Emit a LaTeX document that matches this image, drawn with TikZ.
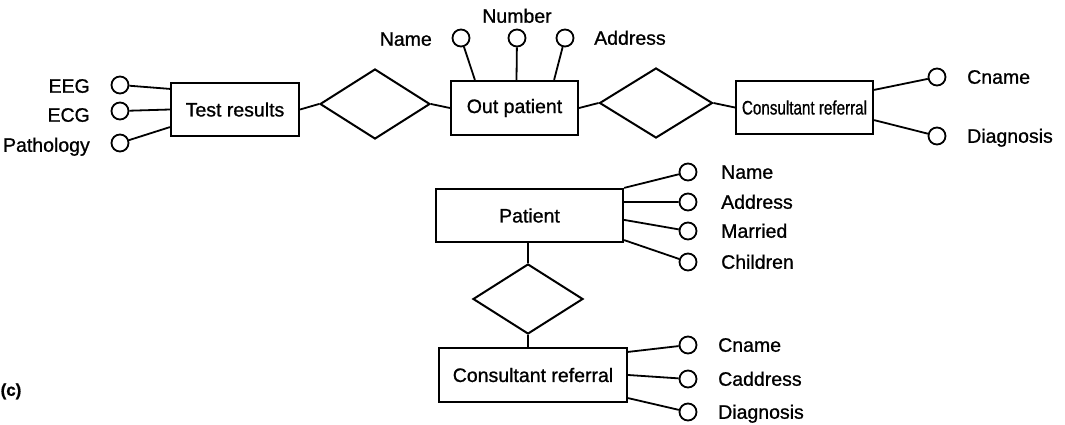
\documentclass[tikz,border=0pt]{standalone}
\usepackage{fontspec}
\setmainfont{Liberation Sans}[FakeBold=0.9]
\usetikzlibrary{shapes.geometric}
\begin{document}
\begin{tikzpicture}[x=1pt,y=-1pt,
  every node/.style={font=\fontsize{19.5}{22}\selectfont},
  entity/.style={draw,line width=2.2pt,rectangle,inner sep=0pt},
  relation/.style={draw,line width=2pt,diamond,inner sep=0pt,minimum width=110pt,minimum height=70pt},
  attr/.style={draw,line width=1.8pt,circle,inner sep=0pt,minimum size=17pt},
  lbl/.style={inner sep=0pt,text height=13.5pt,text depth=0pt},
  link/.style={line width=1.8pt}]
\useasboundingbox (0,0) rectangle (1065,425);

% ---- upper row: Test results -- Out patient -- Consultant referral
\node[entity,minimum width=128pt,minimum height=53pt] (tr) at (235,109.5) {Test results};
\node[entity,minimum width=127pt,minimum height=54pt] (op) at (514.5,108) {Out patient};
\node[entity,minimum width=137pt,minimum height=53pt] (cr1) at (804.5,107.5)
  {\scalebox{0.78}[1]{Consultant referral}};

\node[relation] (d1) at (375,104) {};
\node[relation,minimum width=113pt] (d2) at (656,103) {};

\draw[link] (tr.east) -- (d1.west);
\draw[link] (d1.east) -- (op.west);
\draw[link] (op.east) -- (d2.west);
\draw[link] (d2.east) -- (cr1.west);

% attributes of Test results
\node[attr] (eeg) at (120,85) {};
\node[attr] (ecg) at (120,111) {};
\node[attr] (path) at (120,143) {};
\node[lbl,anchor=east] (leeg) at (90,86) {EEG};
\node[lbl,anchor=east] (lecg) at (90,115) {ECG};
\node[lbl,anchor=east] (lpath) at (90,145) {Pathology};
\draw[link] (eeg) -- ([yshift=-7pt]tr.north west);
\draw[link] (ecg) -- (tr.west);
\draw[link] (path) -- ([yshift=10pt]tr.south west);

% attributes of Out patient
\node[attr] (opname) at (461,38) {};
\node[attr] (opnum) at (517,38) {};
\node[attr] (opaddr) at (565,38) {};
\node[lbl,anchor=east] (lopname) at (432,39) {Name};
\node[lbl] (lopnum) at (517,16) {Number};
\node[lbl,anchor=west] (lopaddr) at (594,38) {Address};
\draw[link] (opname) -- ([xshift=25pt]op.north west);
\draw[link] (opnum) -- ([xshift=2pt]op.north);
\draw[link] (opaddr) -- ([xshift=-25pt]op.north east);

% attributes of Consultant referral (upper)
\node[attr] (cname1) at (937,77) {};
\node[attr] (diag1) at (937,136) {};
\node[lbl,anchor=west] (lcname1) at (967,77) {Cname};
\node[lbl,anchor=west] (ldiag1) at (967,136) {Diagnosis};
\draw[link] ([yshift=-10pt]cr1.north east) -- (cname1);
\draw[link] ([yshift=15pt]cr1.south east) -- (diag1);

% ---- lower part: Patient -- Consultant referral
\node[entity,minimum width=187pt,minimum height=53pt] (pt) at (529.5,215.5) {Patient};
\node[entity,minimum width=188pt,minimum height=54pt] (cr2) at (533,375) {Consultant referral};
\node[relation] (d3) at (528,299) {};
\draw[link] (pt.south -| d3.north) -- (d3.north);
\draw[link] (d3.south) -- (d3.south |- cr2.north);

% attributes of Patient
\node[attr] (pname) at (688,172) {};
\node[attr] (paddr) at (688,202) {};
\node[attr] (pmar) at (688,231) {};
\node[attr] (pchild) at (688,262) {};
\node[lbl,anchor=west] (lpname) at (721,172) {Name};
\node[lbl,anchor=west] (lpaddr) at (721,202) {Address};
\node[lbl,anchor=west] (lpmar) at (721,231) {Married};
\node[lbl,anchor=west] (lpchild) at (721,262) {Children};
\draw[link] (pt.north east) -- (pname);
\draw[link] ([yshift=-14pt]pt.north east) -- (paddr);
\draw[link] ([yshift=-32pt]pt.north east) -- (pmar);
\draw[link] ([yshift=3pt]pt.south east) -- (pchild);

% attributes of Consultant referral (lower)
\node[attr] (cname2) at (688,345) {};
\node[attr] (cadd2) at (688,379) {};
\node[attr] (diag2) at (688,412) {};
\node[lbl,anchor=west] (lcname2) at (718,345) {Cname};
\node[lbl,anchor=west] (lcadd2) at (718,379) {Caddress};
\node[lbl,anchor=west] (ldiag2) at (718,412) {Diagnosis};
\draw[link] ([yshift=-5pt]cr2.north east) -- (cname2);
\draw[link] (cr2.east) -- (cadd2);
\draw[link] ([yshift=5pt]cr2.south east) -- (diag2);

% panel label
\node[lbl,font=\fontsize{17}{20}\selectfont\bfseries] (panel) at (11,389) {(c)};
\end{tikzpicture}
\end{document}
